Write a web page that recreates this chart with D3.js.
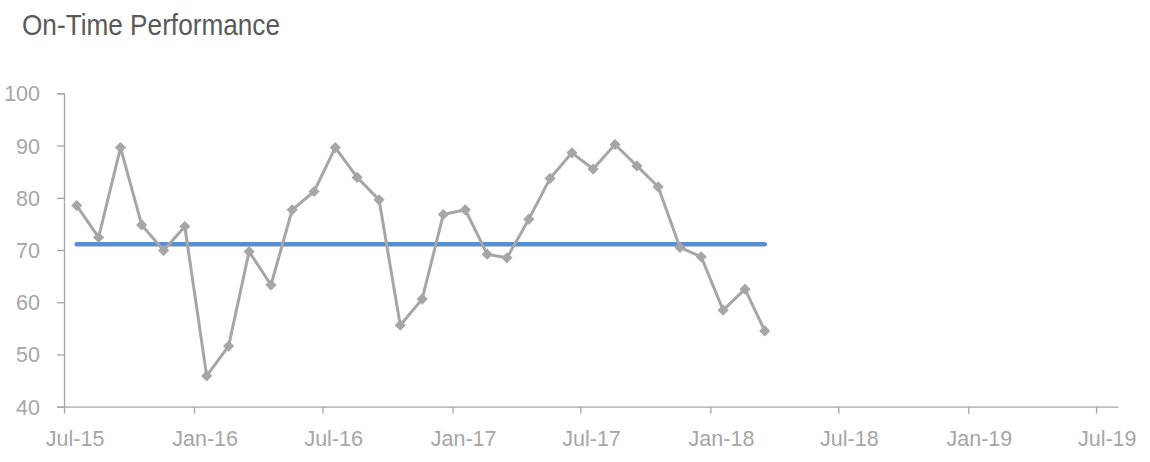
<!DOCTYPE html>
<html>
<head>
<meta charset="utf-8">
<script src="https://cdn.jsdelivr.net/npm/d3@7"></script>
<style>
  html, body { margin: 0; padding: 0; background: #ffffff; }
  svg { display: block; }
</style>
</head>
<body>
<svg id="chart" width="1150" height="462"></svg>
<script>
// ---- data ----
const title = "On-Time Performance";
const dates = [
  "2015-07-19","2015-08-19","2015-09-19","2015-10-19","2015-11-19","2015-12-19",
  "2016-01-19","2016-02-19","2016-03-19","2016-04-19","2016-05-19","2016-06-19",
  "2016-07-19","2016-08-19","2016-09-19","2016-10-19","2016-11-19","2016-12-19",
  "2017-01-19","2017-02-19","2017-03-19","2017-04-19","2017-05-19","2017-06-19",
  "2017-07-19","2017-08-19","2017-09-19","2017-10-19","2017-11-19","2017-12-19",
  "2018-01-19","2018-02-19","2018-03-19"
];
const onTime = [
  78.5, 72.4, 89.6, 74.8, 69.9, 74.5,
  45.9, 51.6, 69.7, 63.3, 77.7, 81.2,
  89.6, 83.9, 79.6, 55.6, 60.6, 76.8,
  77.7, 69.2, 68.5, 75.9, 83.7, 88.6,
  85.5, 90.2, 86.1, 82.1, 70.5, 68.7,
  58.5, 62.5, 54.5
];
const target = 71.1;
const yTicks = [40, 50, 60, 70, 80, 90, 100];
const xTickDates = ["2015-07-01","2016-01-01","2016-07-01","2017-01-01","2017-07-01",
                    "2018-01-01","2018-07-01","2019-01-01","2019-07-01"];
const xDomain = ["2015-07-01", "2019-08-01"];

// ---- drawing ----
const parse = d3.timeParse("%Y-%m-%d");
const svg = d3.select("#chart");
const axisColor = "#a6a6a6";
const labelColor = "#a6a6a6";
const font = "'Liberation Sans', Arial, sans-serif";

const x = d3.scaleTime().domain(xDomain.map(parse)).range([64, 1118]);
const y = d3.scaleLinear().domain([40, 100]).range([406.7, 93.3]);

const data = dates.map((d, i) => ({ date: parse(d), value: onTime[i] }));

// title
svg.append("text")
  .attr("x", 22).attr("y", 35)
  .attr("font-family", font)
  .attr("font-size", 29)
  .attr("fill", "#595959")
  .attr("textLength", 258)
  .attr("lengthAdjust", "spacingAndGlyphs")
  .text(title);

// y axis
const yAxis = svg.append("g")
  .attr("transform", `translate(${x.range()[0]},0)`)
  .call(d3.axisLeft(y).tickValues(yTicks).tickSize(7).tickPadding(17).tickFormat(d3.format("d")));
yAxis.select(".domain").attr("stroke", axisColor).attr("stroke-width", 1.3);
yAxis.selectAll(".tick line").attr("stroke", axisColor).attr("stroke-width", 1.3);
yAxis.selectAll(".tick text")
  .attr("fill", labelColor)
  .attr("font-family", font)
  .attr("font-size", 21.5)
  .attr("dy", "0.35em");

// x axis (labels centred on the middle of the tick's month)
const halfMonth = x(parse("2015-07-16")) - x(parse("2015-07-01"));
const xAxis = svg.append("g")
  .attr("transform", `translate(0,${y(40)})`)
  .call(d3.axisBottom(x).tickValues(xTickDates.map(parse)).tickSize(7).tickPadding(17)
        .tickFormat(d3.timeFormat("%b-%y")).tickSizeOuter(0));
xAxis.select(".domain").attr("stroke", axisColor).attr("stroke-width", 1.3);
xAxis.selectAll(".tick line").attr("stroke", axisColor).attr("stroke-width", 1.3);
xAxis.selectAll(".tick text")
  .attr("fill", labelColor)
  .attr("font-family", font)
  .attr("font-size", 21.5)
  .attr("dx", halfMonth)
  .attr("dy", "0.71em");

// target line
svg.append("path")
  .datum([data[0].date, data[data.length - 1].date])
  .attr("fill", "none")
  .attr("stroke", "#558ed5")
  .attr("stroke-width", 4.5)
  .attr("stroke-linecap", "round")
  .attr("d", d3.line().x(d => x(d)).y(() => y(target)));

// series line
svg.append("path")
  .datum(data)
  .attr("fill", "none")
  .attr("stroke", "#a6a6a6")
  .attr("stroke-width", 3)
  .attr("stroke-linejoin", "round")
  .attr("d", d3.line().x(d => x(d.date)).y(d => y(d.value)));

// markers
svg.append("g").selectAll("path")
  .data(data)
  .join("path")
  .attr("transform", d => `translate(${x(d.date)},${y(d.value)})`)
  .attr("d", d3.symbol().type(d3.symbolDiamond2).size(80))
  .attr("fill", "#a6a6a6");
</script>
</body>
</html>
